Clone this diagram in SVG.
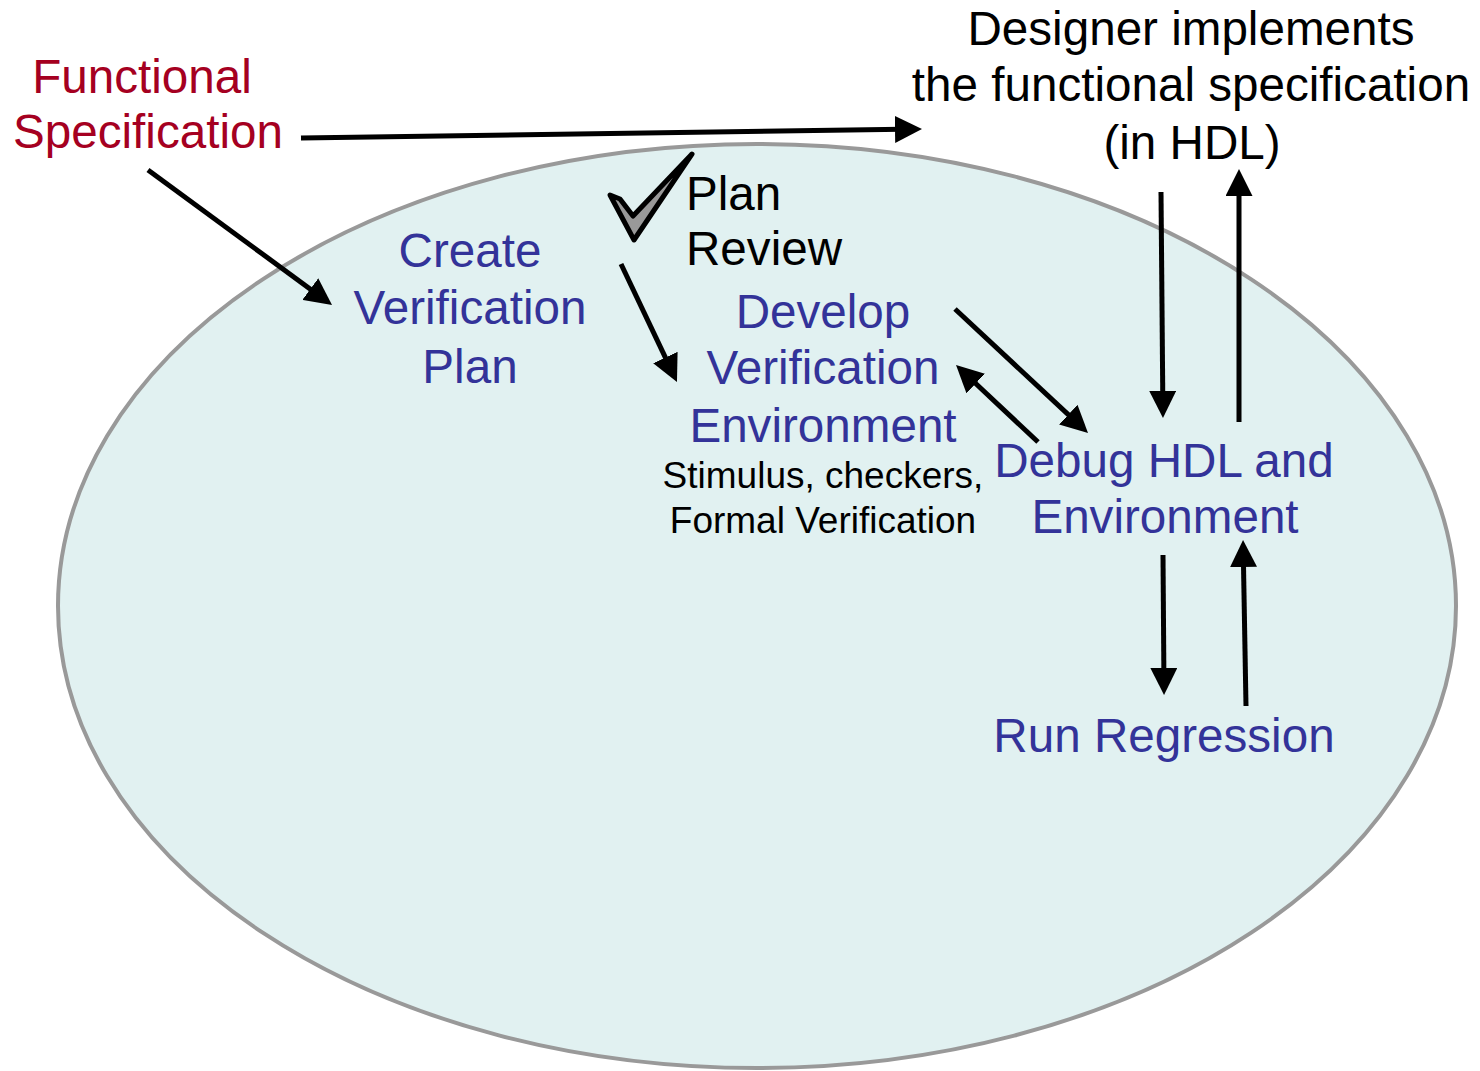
<svg xmlns="http://www.w3.org/2000/svg" width="1480" height="1071" viewBox="0 0 1480 1071">
<style>
text{font-family:"Liberation Sans",Arial,sans-serif;}
.big{font-size:47.6px;text-anchor:middle;}
.blue{fill:#333399;}
.red{fill:#A50021;}
.blk{fill:#000;}
.small{font-size:37px;text-anchor:middle;fill:#000;}
.conn{stroke:#000;stroke-width:5;fill:none;marker-end:url(#ah);}
</style>
<defs>
<marker id="ah" markerUnits="userSpaceOnUse" markerWidth="27" markerHeight="27" viewBox="0 0 27 27" refX="7" refY="13.5" orient="auto">
<path d="M0,0 L27,13.5 L0,27 z" fill="#000"/>
</marker>
</defs>
<rect width="1480" height="1071" fill="#fff"/>
<g id="scope">
<ellipse cx="757" cy="606" rx="699" ry="462" fill="#E1F1F1" stroke="#999999" stroke-width="4"/>
</g>
<g id="functional-spec">
<text class="big red" x="142" y="93">Functional</text>
<text class="big red" x="148" y="148">Specification</text>
</g>
<g id="designer">
<text class="big blk" x="1191" y="45">Designer implements</text>
<text class="big blk" x="1191" y="101">the functional specification</text>
<text class="big blk" x="1192" y="159">(in HDL)</text>
</g>
<g id="create-plan">
<text class="big blue" x="470" y="267">Create</text>
<text class="big blue" x="470" y="324">Verification</text>
<text class="big blue" x="470" y="383">Plan</text>
</g>
<g id="plan-review">
<polygon points="610,195 634,240 692,154 633,216 620,199" fill="#999999" stroke="#000" stroke-width="5" stroke-linejoin="round"/>
<text x="686" y="210" style="font-size:47.6px;fill:#000">Plan</text>
<text x="686" y="265" style="font-size:47.6px;fill:#000">Review</text>
</g>
<g id="develop-env">
<text class="big blue" x="823" y="328">Develop</text>
<text class="big blue" x="823" y="384">Verification</text>
<text class="big blue" x="823" y="442">Environment</text>
<text class="small" x="823" y="488">Stimulus, checkers,</text>
<text class="small" x="823" y="533">Formal Verification</text>
</g>
<g id="debug">
<text class="big blue" x="1164" y="477">Debug HDL and</text>
<text class="big blue" x="1165" y="533">Environment</text>
</g>
<g id="regression">
<text class="big blue" x="1164" y="752">Run Regression</text>
</g>
<g id="connectors">
<line class="conn" x1="301" y1="138" x2="902" y2="129.3"/>
<line class="conn" x1="148" y1="170" x2="315.9" y2="293.2"/>
<line class="conn" x1="621" y1="264" x2="668.4" y2="363.9"/>
<line class="conn" x1="955" y1="309" x2="1073.4" y2="419.4"/>
<line class="conn" x1="1038" y1="442" x2="970.6" y2="378.7"/>
<line class="conn" x1="1161" y1="192" x2="1162.8" y2="398"/>
<line class="conn" x1="1239" y1="422" x2="1239" y2="189"/>
<line class="conn" x1="1163" y1="555" x2="1163.9" y2="675"/>
<line class="conn" x1="1246" y1="706" x2="1243.4" y2="560"/>
</g>
</svg>
